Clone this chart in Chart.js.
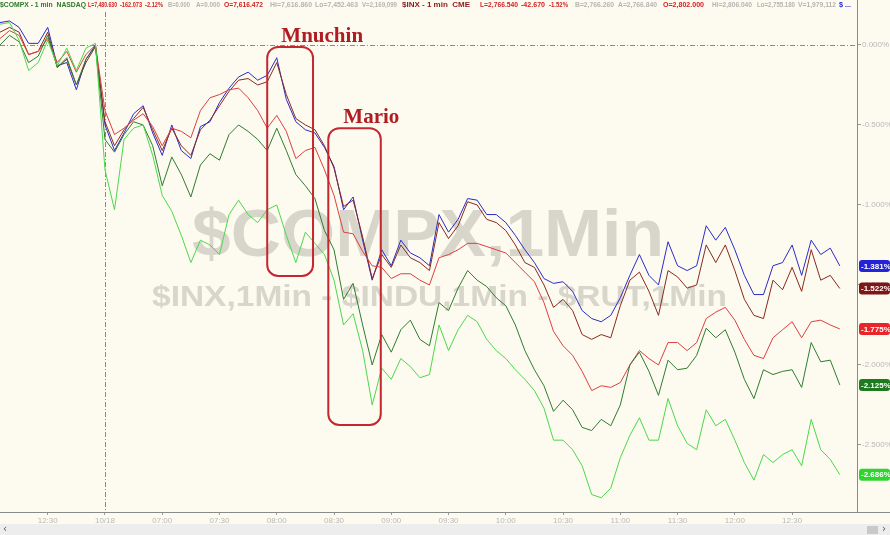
<!DOCTYPE html>
<html>
<head>
<meta charset="utf-8">
<script src="https://cdn.jsdelivr.net/npm/chart.js@4.4.0/dist/chart.umd.min.js"></script>
<style>
  html, body { margin: 0; padding: 0; background: #fdfaf0; }
  #wrap { width: 890px; height: 535px; }
</style>
</head>
<body>
<div id="wrap"><canvas id="myChart" width="890" height="535"></canvas></div>
<script>
// minutes relative to the 10/18 open (06:30); negatives are the prior session
const times = [-55,-50,-45,-40,-35,-30,-25,-20,-15,-10,-5,
  0,5,10,15,20,25,30,35,40,45,50,55,60,65,70,75,80,85,90,95,
  100,105,110,115,120,125,130,135,140,145,150,155,160,165,170,175,
  180,185,190,195,200,205,210,215,220,225,230,235,240,245,250,255,
  260,265,270,275,280,285,290,295,300,305,310,315,320,325,330,335,
  340,345,350,355,360,365,370,375,380,385];

// % change
const indu = [0.14,0.15,0.11,0.01,0.01,0.11,-0.13,-0.11,-0.28,-0.09,0.00,
  -0.50,-0.66,-0.55,-0.43,-0.38,-0.55,-0.69,-0.50,-0.66,-0.71,
  -0.51,-0.48,-0.36,-0.27,-0.20,-0.17,-0.22,-0.19,-0.08,-0.34,
  -0.48,-0.53,-0.55,-0.64,-0.76,-1.03,-0.95,-1.22,-1.47,-1.28,
  -1.38,-1.22,-1.30,-1.33,-1.38,-1.06,-1.17,-1.09,-0.96,-0.97,
  -1.06,-1.06,-1.11,-1.19,-1.28,-1.36,-1.46,-1.49,-1.48,-1.54,
  -1.66,-1.71,-1.73,-1.69,-1.58,-1.44,-1.31,-1.44,-1.50,-1.23,
  -1.38,-1.41,-1.38,-1.13,-1.22,-1.14,-1.28,-1.44,-1.56,-1.56,
  -1.38,-1.36,-1.25,-1.44,-1.22,-1.31,-1.27,-1.381];

const inx = [0.08,0.11,0.08,-0.06,-0.04,0.08,-0.14,-0.09,-0.25,-0.11,-0.01,
  -0.48,-0.63,-0.53,-0.46,-0.39,-0.53,-0.66,-0.52,-0.63,-0.69,
  -0.53,-0.47,-0.38,-0.29,-0.22,-0.21,-0.25,-0.23,-0.11,-0.31,
  -0.46,-0.50,-0.53,-0.63,-0.77,-1.01,-0.97,-1.20,-1.46,-1.31,
  -1.39,-1.25,-1.33,-1.36,-1.41,-1.11,-1.21,-1.13,-0.98,-1.00,
  -1.09,-1.11,-1.16,-1.25,-1.36,-1.39,-1.50,-1.64,-1.59,-1.66,
  -1.81,-1.84,-1.81,-1.83,-1.63,-1.47,-1.42,-1.54,-1.69,-1.41,
  -1.45,-1.52,-1.50,-1.25,-1.36,-1.25,-1.41,-1.59,-1.69,-1.71,
  -1.47,-1.53,-1.39,-1.54,-1.28,-1.47,-1.44,-1.522];

const rut = [0.04,0.09,0.06,-0.06,-0.04,0.04,-0.11,-0.04,-0.17,-0.06,0.00,
  -0.41,-0.56,-0.52,-0.47,-0.43,-0.51,-0.63,-0.52,-0.54,-0.58,
  -0.41,-0.33,-0.31,-0.28,-0.27,-0.33,-0.41,-0.52,-0.44,-0.54,
  -0.71,-0.66,-0.64,-0.78,-0.94,-1.17,-1.18,-1.29,-1.38,-1.39,
  -1.46,-1.43,-1.43,-1.47,-1.50,-1.33,-1.31,-1.28,-1.24,-1.24,
  -1.26,-1.28,-1.30,-1.36,-1.42,-1.48,-1.61,-1.79,-1.88,-1.94,
  -2.04,-2.16,-2.13,-2.14,-2.11,-2.00,-1.91,-1.96,-2.00,-1.86,
  -1.86,-1.91,-1.86,-1.71,-1.67,-1.64,-1.72,-1.84,-1.94,-1.96,
  -1.83,-1.78,-1.73,-1.83,-1.73,-1.72,-1.75,-1.775];

const compx = [0.00,0.06,0.02,-0.11,-0.07,0.06,-0.14,-0.08,-0.25,-0.09,-0.01,
  -0.59,-0.67,-0.56,-0.48,-0.50,-0.63,-0.88,-0.70,-0.81,-0.95,
  -0.75,-0.68,-0.72,-0.56,-0.50,-0.54,-0.59,-0.66,-0.52,-0.66,
  -0.81,-0.88,-0.96,-1.16,-1.28,-1.59,-1.49,-1.75,-2.00,-1.81,
  -1.92,-1.78,-1.72,-1.84,-1.88,-1.61,-1.66,-1.52,-1.41,-1.47,
  -1.51,-1.58,-1.63,-1.75,-1.91,-2.03,-2.13,-2.29,-2.22,-2.28,
  -2.39,-2.41,-2.34,-2.38,-2.25,-2.00,-1.92,-2.04,-2.19,-1.97,
  -2.03,-2.02,-1.94,-1.77,-1.83,-1.78,-1.92,-2.09,-2.21,-2.03,
  -2.06,-2.04,-2.03,-2.14,-1.86,-1.98,-1.97,-2.125];

const ndx = [0.13,0.14,0.03,-0.16,-0.11,0.03,-0.13,-0.02,-0.16,-0.02,0.01,
  -0.78,-1.03,-0.59,-0.52,-0.50,-0.69,-0.94,-1.04,-1.19,-1.36,
  -1.22,-1.25,-1.31,-1.06,-0.97,-1.06,-1.11,-1.03,-1.00,-1.19,
  -1.36,-1.17,-1.24,-1.31,-1.47,-1.75,-1.68,-1.91,-2.25,-2.02,
  -2.09,-1.96,-2.01,-2.08,-2.06,-1.75,-1.91,-1.78,-1.69,-1.73,
  -1.84,-1.91,-1.96,-2.03,-2.09,-2.16,-2.27,-2.47,-2.47,-2.53,
  -2.63,-2.81,-2.83,-2.77,-2.58,-2.44,-2.33,-2.47,-2.47,-2.21,
  -2.38,-2.49,-2.53,-2.28,-2.38,-2.34,-2.47,-2.61,-2.72,-2.56,
  -2.61,-2.56,-2.53,-2.63,-2.34,-2.53,-2.59,-2.686];

const xTickValues = [-30,0,30,60,90,120,150,180,210,240,270,300,330,360];
const xTickLabels = ['12:30','10/18','07:00','07:30','08:00','08:30','09:00',
  '09:30','10:00','10:30','11:00','11:30','12:00','12:30'];
const yTickValues = [0,-0.5,-1,-1.5,-2,-2.5];

// event boxes
const eventNames = ['Mnuchin','Mario'];
const eventStart = [85,117];
const eventEnd = [109,144.5];
const eventTop = [-0.012,-0.52];
const eventBottom = [-1.444,-2.375];

const series = [
  { label: '$NDX', data: ndx, color: '#4ada4a', tag: '#2fd42f' },
  { label: '$COMPX', data: compx, color: '#2f7d2f', tag: '#1d7a1d' },
  { label: '$RUT', data: rut, color: '#dd4040', tag: '#e8262a' },
  { label: '$INX', data: inx, color: '#8a2a1e', tag: '#7d1616' },
  { label: '$INDU', data: indu, color: '#2c2cc8', tag: '#2424d6' }
];

const BG = '#fdfaf0';

const decor = {
  id: 'decor',
  beforeDraw(chart) {
    const c = chart.ctx;
    c.save();
    c.fillStyle = BG;
    c.fillRect(0, 0, chart.width, chart.height);
    c.restore();
  },
  beforeDatasetsDraw(chart) {
    const c = chart.ctx;
    const a = chart.chartArea;
    const xs = chart.scales.x, ys = chart.scales.y;
    c.save();
    // watermark
    c.fillStyle = 'rgba(185,182,172,0.55)';
    c.textAlign = 'left';
    c.textBaseline = 'alphabetic';
    const drawFit = (txt, font, x0, x1, base) => {
      c.font = font;
      const w = c.measureText(txt).width;
      c.save();
      c.translate(x0, base);
      c.scale((x1 - x0) / w, 1);
      c.fillText(txt, 0, 0);
      c.restore();
    };
    drawFit('$COMPX,1Min', 'bold 66px "Liberation Sans", Arial, sans-serif', 192, 664, 256);
    drawFit('$INX,1Min - $INDU,1Min - $RUT,1Min', 'bold 29px "Liberation Sans", Arial, sans-serif', 152, 727, 306);

    // reference lines
    c.strokeStyle = '#c87070';
    c.lineWidth = 1;
    c.setLineDash([5, 2, 1, 2]);
    const y0 = Math.round(ys.getPixelForValue(0)) + 0.5;
    c.beginPath(); c.moveTo(a.left, y0); c.lineTo(a.right, y0); c.stroke();
    const x0 = Math.round(xs.getPixelForValue(0)) + 0.5;
    c.beginPath(); c.moveTo(x0, a.top); c.lineTo(x0, a.bottom); c.stroke();
    c.restore();
  },
  afterDatasetsDraw(chart) {
    const c = chart.ctx;
    const xs = chart.scales.x, ys = chart.scales.y;
    const textDx = [55, 43];
    c.save();
    c.strokeStyle = '#c4282e';
    c.lineWidth = 2;
    c.fillStyle = '#b01c22';
    c.font = 'bold 21px "Liberation Serif", "DejaVu Serif", serif';
    c.textAlign = 'center';
    c.textBaseline = 'alphabetic';
    eventNames.forEach((name, i) => {
      const l = xs.getPixelForValue(eventStart[i]);
      const r = xs.getPixelForValue(eventEnd[i]);
      const t = ys.getPixelForValue(eventTop[i]);
      const b = ys.getPixelForValue(eventBottom[i]);
      c.beginPath();
      c.roundRect(l, t, r - l, b - t, 11);
      c.stroke();
      c.fillText(name, l + textDx[i], t - 5);
    });
    c.restore();
  },
  afterDraw(chart) {
    const c = chart.ctx;
    const ys = chart.scales.y;
    const a = chart.chartArea;
    c.save();
    // bottom scroll band
    c.fillStyle = '#ededed';
    c.fillRect(0, 524, chart.width, 11);
    c.fillStyle = '#c9c9c9';
    c.fillRect(867, 526, 11, 8);
    c.fillStyle = '#555';
    c.font = '10px "DejaVu Sans", sans-serif';
    c.textBaseline = 'middle';
    c.textAlign = 'left';
    c.fillText('‹', 3, 529);
    c.fillText('›', 882, 529);

    // axis frame
    c.strokeStyle = '#8a8a8a';
    c.lineWidth = 1;
    c.beginPath();
    c.moveTo(0, a.bottom + 0.5); c.lineTo(chart.width, a.bottom + 0.5);
    c.moveTo(a.right + 0.5, 0); c.lineTo(a.right + 0.5, a.bottom);
    c.stroke();

    // last value tags
    c.font = 'bold 8px "Liberation Sans", Arial, sans-serif';
    c.textBaseline = 'middle';
    c.textAlign = 'left';
    series.forEach(s => {
      const v = s.data[s.data.length - 1];
      const y = ys.getPixelForValue(v);
      c.fillStyle = s.tag;
      c.beginPath();
      c.roundRect(a.right + 2, y - 6, 31, 12, 3);
      c.fill();
      c.fillStyle = '#ffffff';
      c.fillText(v.toFixed(3) + '%', a.right + 4, y + 0.5);
    });

    // header line: [text, colour, left, right]
    const parts = [
      ['$COMPX - 1 min  NASDAQ', '#2a7a2a', 0, 86],
      ['L=7,480.630', '#d42020', 88, 117],
      ['-162.073', '#d42020', 120, 142],
      ['-2.12%', '#d42020', 145, 163],
      ['B=0.000', '#b4b4b4', 168, 190],
      ['A=0.000', '#b4b4b4', 196, 220],
      ['O=7,616.472', '#d42020', 224, 263],
      ['Hi=7,616.860', '#b4b4b4', 270, 312],
      ['Lo=7,452.463', '#b4b4b4', 315, 358],
      ['V=2,169,099', '#b4b4b4', 362, 397],
      ['$INX - 1 min  CME', '#8a1a1a', 402, 474],
      ['L=2,766.540', '#d42020', 480, 518],
      ['-42.670', '#d42020', 521, 545],
      ['-1.52%', '#d42020', 549, 568],
      ['B=2,766.260', '#b4b4b4', 575, 614],
      ['A=2,766.840', '#b4b4b4', 618, 657],
      ['O=2,802.000', '#d42020', 663, 704],
      ['Hi=2,806.040', '#b4b4b4', 712, 752],
      ['Lo=2,755.180', '#b4b4b4', 757, 795],
      ['V=1,979,112', '#b4b4b4', 798, 836],
      ['$ ...', '#2424d6', 839, 851]
    ];
    c.font = 'bold 8px "Liberation Sans", Arial, sans-serif';
    c.textBaseline = 'middle';
    parts.forEach(p => {
      const w = c.measureText(p[0]).width;
      c.save();
      c.translate(p[2], 5);
      c.scale(Math.min(1, (p[3] - p[2]) / w), 1);
      c.fillStyle = p[1];
      c.fillText(p[0], 0, 0);
      c.restore();
    });
    c.restore();
  }
};

const ctx = document.getElementById('myChart').getContext('2d');

const chart = new Chart(ctx, {
  type: 'line',
  data: {
    datasets: series.map(s => ({
      label: s.label,
      data: times.map((t, i) => ({ x: t, y: s.data[i] })),
      borderColor: s.color,
      borderWidth: 1,
      pointRadius: 0,
      tension: 0,
      fill: false
    }))
  },
  options: {
    responsive: false,
    animation: false,
    devicePixelRatio: 1,
    layout: { padding: { top: 12, left: 0, right: 0, bottom: 0 } },
    plugins: {
      legend: { display: false },
      tooltip: { enabled: false }
    },
    scales: {
      x: {
        type: 'linear',
        min: -55,
        max: 394,
        afterBuildTicks: (scale) => {
          scale.ticks = xTickValues.map(v => ({ value: v }));
        },
        afterFit: (scale) => { scale.height = 23; },
        grid: { display: true, drawOnChartArea: false, tickLength: 3, color: '#9a9a9a' },
        border: { display: false },
        ticks: {
          autoSkip: false,
          maxRotation: 0,
          padding: 1,
          color: '#b8b8b8',
          font: { size: 8, family: '"Liberation Sans", Arial, sans-serif' },
          callback: (v) => {
            const i = xTickValues.indexOf(v);
            return i >= 0 ? xTickLabels[i] : '';
          }
        }
      },
      y: {
        position: 'right',
        min: -2.919,
        max: 0.206,
        afterBuildTicks: (scale) => {
          scale.ticks = yTickValues.map(v => ({ value: v }));
        },
        afterFit: (scale) => { scale.width = 33; },
        grid: { display: true, drawOnChartArea: false, tickLength: 4, color: '#9a9a9a' },
        border: { display: false },
        ticks: {
          padding: 1,
          color: '#b8b8b8',
          font: { size: 8, family: '"Liberation Sans", Arial, sans-serif' },
          callback: (v) => v.toFixed(3) + '%'
        }
      }
    }
  },
  plugins: [decor]
});
</script>
</body>
</html>
